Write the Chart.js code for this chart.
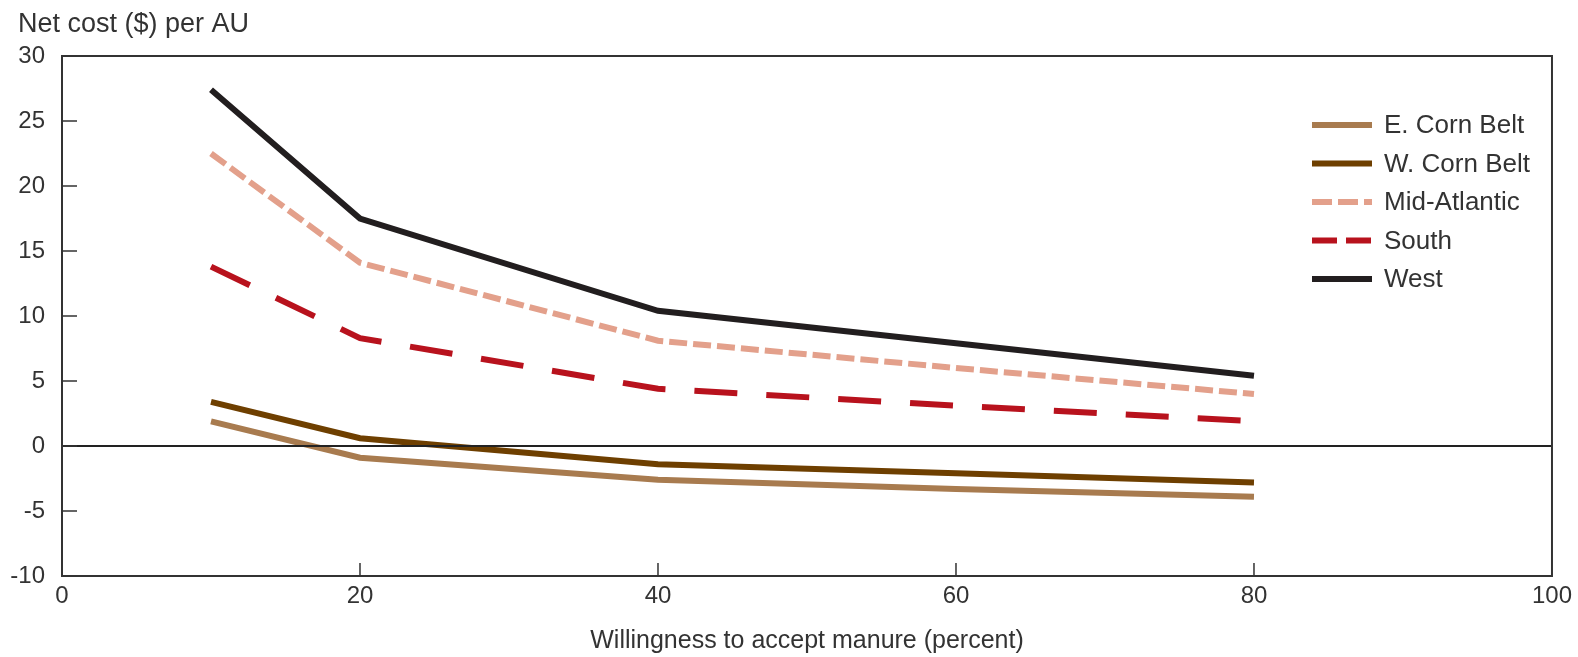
<!DOCTYPE html>
<html>
<head>
<meta charset="utf-8">
<script src="https://cdn.jsdelivr.net/npm/chart.js@4.4.1/dist/chart.umd.min.js"></script>
<style>
  html, body { margin: 0; padding: 0; background: #fff; }
  #wrap { width: 1578px; height: 657px; }
</style>
</head>
<body>
<div id="wrap"><canvas id="myChart" width="1578" height="657"></canvas></div>
<script>
// willingness to accept manure (percent)
const xValues = [10, 20, 40, 60, 80];
const eCornBelt = [1.9, -0.9, -2.6, -3.3, -3.9];
const wCornBelt = [3.4, 0.6, -1.4, -2.1, -2.8];
const midAtlantic = [22.5, 14.1, 8.1, 6.0, 4.0];
const south = [13.8, 8.3, 4.4, 3.1, 1.9];
const west = [27.4, 17.5, 10.4, 7.9, 5.4];
const seriesNames = ["E. Corn Belt", "W. Corn Belt", "Mid-Atlantic", "South", "West"];
const xTicks = [0, 20, 40, 60, 80, 100];
const yTicks = [-10, -5, 0, 5, 10, 15, 20, 25, 30];

const font = "'Liberation Sans', Arial, sans-serif";
const textColor = "#333";

const toPoints = ys => ys.map((y, i) => ({ x: xValues[i], y: y }));

const makeSet = (label, ys, color, dash, legendDash) => ({
    label: label,
    data: toPoints(ys),
    borderColor: color,
    backgroundColor: color,
    borderWidth: 6,
    borderDash: dash,
    legendDash: legendDash || dash,
    pointRadius: 0,
    tension: 0,
    fill: false
});

const framePlugin = {
    id: "frame",
    afterDatasetsDraw(chart) {
        const { ctx, chartArea: a, scales: { x, y } } = chart;
        ctx.save();
        // zero line
        ctx.strokeStyle = "#222";
        ctx.lineWidth = 2;
        ctx.beginPath();
        ctx.moveTo(a.left, y.getPixelForValue(0));
        ctx.lineTo(a.right, y.getPixelForValue(0));
        ctx.stroke();
        // box
        ctx.strokeStyle = "#333";
        ctx.lineWidth = 2;
        ctx.strokeRect(a.left, a.top, a.right - a.left, a.bottom - a.top);
        // inward ticks
        ctx.lineWidth = 1.5;
        ctx.beginPath();
        for (const v of yTicks) {
            const py = y.getPixelForValue(v);
            ctx.moveTo(a.left, py);
            ctx.lineTo(a.left + 15, py);
        }
        for (const v of xTicks) {
            if (v === xTicks[0] || v === xTicks[xTicks.length - 1]) continue;
            const px = x.getPixelForValue(v);
            ctx.moveTo(px, a.bottom);
            ctx.lineTo(px, a.bottom - 13);
        }
        ctx.stroke();
        // unit title
        ctx.fillStyle = textColor;
        ctx.font = "27px " + font;
        ctx.textAlign = "left";
        ctx.textBaseline = "alphabetic";
        ctx.fillText("Net cost ($) per AU", 18, 32);
        // legend
        ctx.font = "26px " + font;
        ctx.textBaseline = "middle";
        chart.data.datasets.forEach((ds, i) => {
            const ly = a.top + 69 + i * 38.5;
            ctx.strokeStyle = ds.borderColor;
            ctx.lineWidth = 6;
            ctx.setLineDash(ds.legendDash);
            ctx.beginPath();
            ctx.moveTo(a.left + 1250, ly);
            ctx.lineTo(a.left + 1310, ly);
            ctx.stroke();
            ctx.setLineDash([]);
            ctx.fillStyle = textColor;
            ctx.fillText(ds.label, a.left + 1322, ly + 1);
        });
        ctx.restore();
    }
};

new Chart(document.getElementById("myChart").getContext("2d"), {
    type: "line",
    data: {
        datasets: [
            makeSet(seriesNames[0], eCornBelt, "#a87b4f", []),
            makeSet(seriesNames[1], wCornBelt, "#6e3f00", []),
            makeSet(seriesNames[2], midAtlantic, "#e3a08b", [18, 6], [20, 6]),
            makeSet(seriesNames[3], south, "#b8121d", [43, 29], [25, 9]),
            makeSet(seriesNames[4], west, "#221e1f", [])
        ]
    },
    options: {
        responsive: false,
        animation: false,
        layout: { padding: { top: 56, right: 25, left: 0, bottom: 0 } },
        plugins: { legend: { display: false }, tooltip: { enabled: false } },
        scales: {
            x: {
                type: "linear",
                min: 0,
                max: 100,
                afterBuildTicks: s => { s.ticks = xTicks.map(v => ({ value: v })); },
                grid: { display: false, drawTicks: false },
                border: { display: false },
                ticks: { color: textColor, font: { size: 24, family: font }, padding: 6, maxRotation: 0 },
                title: {
                    display: true,
                    text: "Willingness to accept manure (percent)",
                    color: textColor,
                    font: { size: 25, family: font },
                    padding: { top: 0, bottom: 1 }
                },
                afterFit: s => { s.height = 81; }
            },
            y: {
                min: -10,
                max: 30,
                afterBuildTicks: s => { s.ticks = yTicks.map(v => ({ value: v })); },
                grid: { display: false, drawTicks: false },
                border: { display: false },
                ticks: { color: textColor, font: { size: 24, family: font }, padding: 17 },
                afterFit: s => { s.width = 62; }
            }
        }
    },
    plugins: [framePlugin]
});
</script>
</body>
</html>
